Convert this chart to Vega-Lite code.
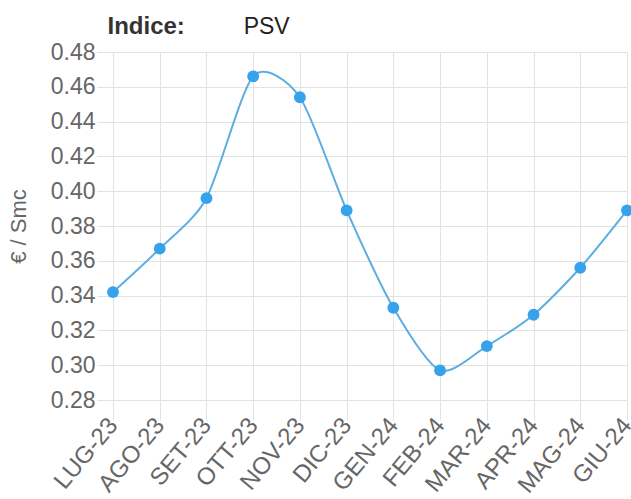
{
  "$schema": "https://vega.github.io/schema/vega-lite/v6.json",
  "autosize": "none",
  "width": 514,
  "height": 348,
  "padding": {"left": 113, "top": 52, "right": 4, "bottom": 99},
  "background": "white",
  "data": {
    "values": [
      {"mese": "LUG-23", "valore": 0.342},
      {"mese": "AGO-23", "valore": 0.367},
      {"mese": "SET-23", "valore": 0.396},
      {"mese": "OTT-23", "valore": 0.466},
      {"mese": "NOV-23", "valore": 0.454},
      {"mese": "DIC-23", "valore": 0.389},
      {"mese": "GEN-24", "valore": 0.333},
      {"mese": "FEB-24", "valore": 0.297},
      {"mese": "MAR-24", "valore": 0.311},
      {"mese": "APR-24", "valore": 0.329},
      {"mese": "MAG-24", "valore": 0.356},
      {"mese": "GIU-24", "valore": 0.389}
    ]
  },
  "encoding": {
    "y": {
      "field": "valore",
      "type": "quantitative",
      "scale": {"domain": [0.28, 0.48], "nice": false, "zero": false},
      "axis": {
        "title": "€ / Smc",
        "titleFont": "Liberation Sans",
        "titleFontSize": 22,
        "titleFontWeight": "normal",
        "titleColor": "#666666",
        "titlePadding": 20,
        "values": [0.28, 0.30, 0.32, 0.34, 0.36, 0.38, 0.40, 0.42, 0.44, 0.46, 0.48],
        "format": ".2f",
        "labelFont": "Liberation Sans",
        "labelFontSize": 23,
        "labelColor": "#666666",
        "labelPadding": 2,
        "labelOverlap": false,
        "tickSize": 16,
        "tickColor": "#e2e2e2",
        "gridColor": "#e2e2e2",
        "domain": false
      }
    }
  },
  "resolve": {"axis": {"x": "independent"}},
  "layer": [
    {
      "mark": {"type": "line", "interpolate": "cardinal", "tension": 0.25, "color": "#5dade2", "strokeWidth": 2},
      "encoding": {
        "x": {
          "field": "mese",
          "type": "ordinal",
          "sort": null,
          "scale": {"type": "point", "padding": 0},
          "axis": {
            "title": null,
            "labelAngle": -50,
            "labelAlign": "right",
            "labelBaseline": "middle",
            "labelFont": "Liberation Sans",
            "labelFontSize": 24,
            "labelColor": "#666666",
            "labelPadding": 1,
            "labelOverlap": false,
            "tickSize": 20,
            "tickColor": "#e2e2e2",
            "grid": true,
            "gridColor": "#e2e2e2",
            "domain": false
          }
        }
      }
    },
    {
      "mark": {"type": "point", "filled": true, "color": "#36a2eb", "size": 140, "opacity": 1},
      "encoding": {
        "x": {
          "field": "mese",
          "type": "ordinal",
          "sort": null,
          "axis": {
            "orient": "top",
            "title": "Indice:",
            "titleFont": "Liberation Sans",
            "titleFontSize": 24,
            "titleFontWeight": "bold",
            "titleColor": "#333333",
            "titleAlign": "left",
            "titleBaseline": "alphabetic",
            "titleX": -6,
            "titleY": -19,
            "values": ["OTT-23"],
            "labelExpr": "'PSV'",
            "labelFont": "Liberation Sans",
            "labelFontSize": 23,
            "labelColor": "#222222",
            "labelAngle": 0,
            "labelAlign": "left",
            "labelBaseline": "alphabetic",
            "labelOffset": -10,
            "labelPadding": 19,
            "labelOverlap": false,
            "ticks": false,
            "tickSize": 0,
            "domain": false,
            "grid": false
          }
        }
      }
    }
  ]
}
